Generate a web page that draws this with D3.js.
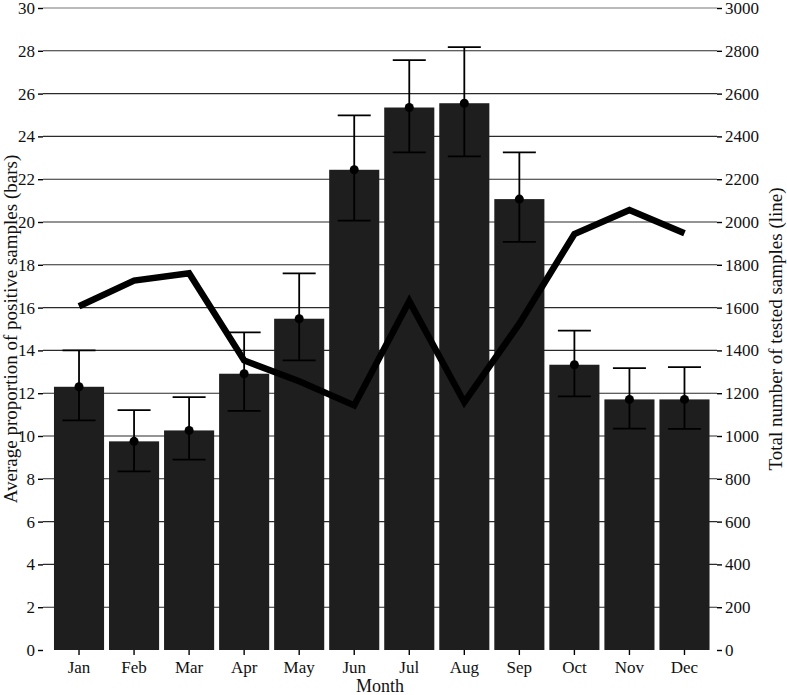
<!DOCTYPE html>
<html>
<head>
<meta charset="utf-8">
<script src="https://cdn.jsdelivr.net/npm/d3@7"></script>
<style>
  body { margin: 0; background: #fff; }
  text { font-family: "Liberation Serif", "Times New Roman", serif; }
</style>
</head>
<body>
<div id="wrapper"></div>
<script>
const months = ["Jan", "Feb", "Mar", "Apr", "May", "Jun", "Jul", "Aug", "Sep", "Oct", "Nov", "Dec"];
const proportion = [12.3, 9.75, 10.26, 12.91, 15.48, 22.44, 25.35, 25.55, 21.07, 13.33, 11.71, 11.71];
const errLow = [10.73, 8.35, 8.9, 11.17, 13.53, 20.06, 23.25, 23.07, 19.07, 11.85, 10.34, 10.33];
const errHigh = [14.0, 11.21, 11.82, 14.84, 17.6, 24.98, 27.56, 28.17, 23.25, 14.92, 13.17, 13.22];
const totalSamples = [1606, 1726, 1760, 1353, 1256, 1143, 1630, 1158, 1525, 1944, 2056, 1947];
const leftTicks = d3.range(0, 31, 2);
const rightTicks = d3.range(0, 3001, 200);

function drawChart() {
  const dimensions = {
    width: 787,
    height: 695,
    gridLeft: 43,
    gridRight: 717,
    bandLeft: 51.5,
    bandRight: 712,
    top: 8,
    bottom: 650
  };

  const svg = d3.select("#wrapper")
    .append("svg")
    .attr("width", dimensions.width)
    .attr("height", dimensions.height);

  const xScale = d3.scaleBand()
    .domain(months)
    .range([dimensions.bandLeft, dimensions.bandRight])
    .paddingInner(0.09)
    .paddingOuter(0.045);
  const yLeft = d3.scaleLinear()
    .domain([0, 30])
    .range([dimensions.bottom, dimensions.top]);
  const yRight = d3.scaleLinear()
    .domain([0, 3000])
    .range([dimensions.bottom, dimensions.top]);

  // gridlines (behind bars)
  svg.append("g")
    .selectAll("line")
    .data(leftTicks.filter(d => d > 0))
    .join("line")
    .attr("x1", dimensions.gridLeft)
    .attr("x2", dimensions.gridRight)
    .attr("y1", d => yLeft(d))
    .attr("y2", d => yLeft(d))
    .attr("stroke", d => d === 30 ? "#777" : "#2a2a2a")
    .attr("stroke-width", 1.1);

  // bars
  svg.append("g")
    .selectAll("rect")
    .data(months)
    .join("rect")
    .attr("x", d => xScale(d))
    .attr("width", xScale.bandwidth())
    .attr("y", (d, i) => yLeft(proportion[i]))
    .attr("height", (d, i) => yLeft(0) - yLeft(proportion[i]))
    .attr("fill", "#1e1e1e");

  // error bars
  const errG = svg.append("g");
  const cx = d => xScale(d) + xScale.bandwidth() / 2;
  const capHalf = 16.5;
  errG.selectAll(".stem")
    .data(months)
    .join("line")
    .attr("x1", cx).attr("x2", cx)
    .attr("y1", (d, i) => yLeft(errLow[i]))
    .attr("y2", (d, i) => yLeft(errHigh[i]))
    .attr("stroke", "#000").attr("stroke-width", 1.8);
  errG.selectAll(".capHi")
    .data(months)
    .join("line")
    .attr("x1", d => cx(d) - capHalf).attr("x2", d => cx(d) + capHalf)
    .attr("y1", (d, i) => yLeft(errHigh[i]))
    .attr("y2", (d, i) => yLeft(errHigh[i]))
    .attr("stroke", "#000").attr("stroke-width", 1.8);
  errG.selectAll(".capLo")
    .data(months)
    .join("line")
    .attr("x1", d => cx(d) - capHalf).attr("x2", d => cx(d) + capHalf)
    .attr("y1", (d, i) => yLeft(errLow[i]))
    .attr("y2", (d, i) => yLeft(errLow[i]))
    .attr("stroke", "#000").attr("stroke-width", 1.8);
  errG.selectAll("circle")
    .data(months)
    .join("circle")
    .attr("cx", cx)
    .attr("cy", (d, i) => yLeft(proportion[i]))
    .attr("r", 4.5)
    .attr("fill", "#000");

  // total samples line
  const lineGen = d3.line()
    .x((d, i) => cx(months[i]))
    .y(d => yRight(d));
  svg.append("path")
    .datum(totalSamples)
    .attr("d", lineGen)
    .attr("fill", "none")
    .attr("stroke", "#000")
    .attr("stroke-width", 6.5)
    .attr("stroke-linejoin", "miter");

  // axes
  const leftAxis = svg.append("g")
    .attr("transform", `translate(${dimensions.gridLeft},0)`)
    .call(d3.axisLeft(yLeft).tickValues(leftTicks).tickSize(5).tickPadding(3));
  const rightAxis = svg.append("g")
    .attr("transform", `translate(${dimensions.gridRight},0)`)
    .call(d3.axisRight(yRight).tickValues(rightTicks).tickFormat(d3.format("d")).tickSize(5).tickPadding(3));
  const bottomAxis = svg.append("g")
    .attr("transform", `translate(0,${dimensions.bottom})`)
    .call(d3.axisBottom(xScale).tickSize(5).tickPadding(6));

  [leftAxis, rightAxis, bottomAxis].forEach(ax => {
    ax.select(".domain").remove();
    ax.selectAll(".tick line").attr("stroke", "#000").attr("stroke-width", 1.4);
    ax.selectAll(".tick text")
      .attr("fill", "#111")
      .style("font-family", "'Liberation Serif', serif")
      .style("font-size", "17px");
  });

  // axis titles
  svg.append("text")
    .attr("x", (dimensions.gridLeft + dimensions.gridRight) / 2)
    .attr("y", 692)
    .attr("text-anchor", "middle")
    .style("font-size", "18px")
    .attr("fill", "#111")
    .text("Month");
  svg.append("text")
    .attr("transform", `translate(17,${(dimensions.top + dimensions.bottom) / 2}) rotate(-90)`)
    .attr("text-anchor", "middle")
    .style("font-size", "19px")
    .attr("fill", "#111")
    .text("Average proportion of positive samples (bars)");
  svg.append("text")
    .attr("transform", `translate(782,${(dimensions.top + dimensions.bottom) / 2}) rotate(-90)`)
    .attr("text-anchor", "middle")
    .style("font-size", "19px")
    .attr("fill", "#111")
    .text("Total number of tested samples (line)");
}

drawChart();
</script>
</body>
</html>
